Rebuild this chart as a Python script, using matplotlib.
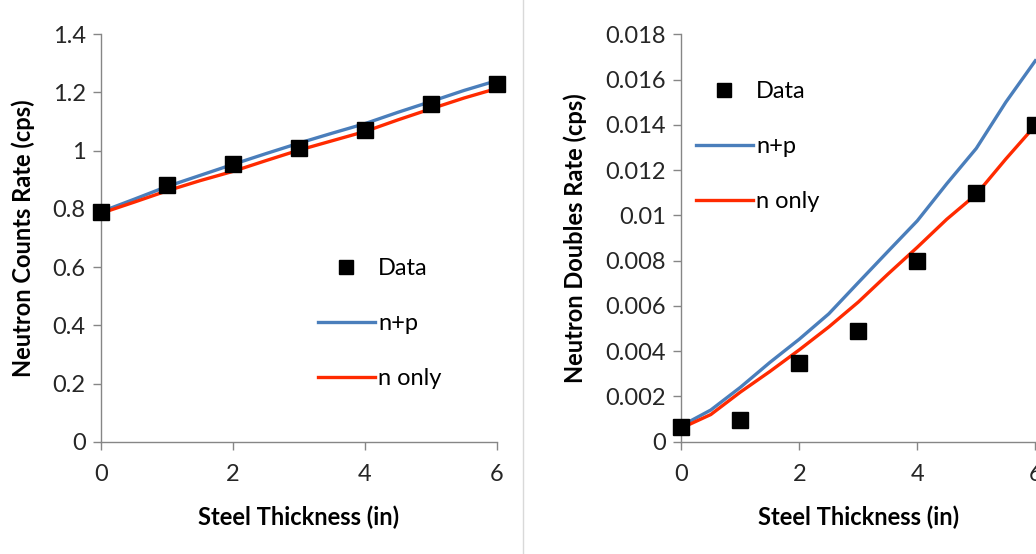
import matplotlib
matplotlib.use("Agg")
import matplotlib.pyplot as plt
from matplotlib.lines import Line2D

# ---- data ----
data_x = [0, 1, 2, 3, 4, 5, 6]
counts_data = [0.79, 0.883, 0.953, 1.01, 1.072, 1.16, 1.23]
model_x = [0, 0.5, 1, 1.5, 2, 2.5, 3, 3.5, 4, 4.5, 5, 5.5, 6]
counts_np = [0.79, 0.833, 0.877, 0.915, 0.953, 0.99, 1.026, 1.06, 1.093, 1.132, 1.169, 1.207, 1.241]
counts_n = [0.785, 0.823, 0.862, 0.897, 0.929, 0.966, 1.002, 1.034, 1.066, 1.106, 1.144, 1.181, 1.214]

doubles_data = [0.00066, 0.00098, 0.00348, 0.00489, 0.0080, 0.0110, 0.0140]
doubles_np = [0.0007, 0.0014, 0.0024, 0.0035, 0.00453, 0.00565, 0.00703, 0.0084, 0.00976, 0.0114, 0.01296, 0.0150, 0.01683]
doubles_n = [0.0006, 0.0012, 0.00219, 0.0031, 0.00406, 0.00507, 0.00617, 0.0074, 0.00859, 0.00983, 0.01093, 0.01249, 0.01397]

left_yticks = [0, 0.2, 0.4, 0.6, 0.8, 1.0, 1.2, 1.4]
left_ylabels = ["0", "0.2", "0.4", "0.6", "0.8", "1", "1.2", "1.4"]
right_yticks = [0, 0.002, 0.004, 0.006, 0.008, 0.010, 0.012, 0.014, 0.016, 0.018]
right_ylabels = ["0", "0.002", "0.004", "0.006", "0.008", "0.01", "0.012", "0.014", "0.016", "0.018"]
xticks = [0, 2, 4, 6]
xlabels = ["0", "2", "4", "6"]

BLUE = "#4A7EBB"
RED = "#FF2A00"
GRAY = "#868686"
FONT = ["Lato", "DejaVu Sans"]

plt.rcParams['font.family'] = FONT

fig = plt.figure(figsize=(10.36, 5.54), dpi=100)

def style(ax, yticks, ylabels, ylim, ylabel, labelpad):
    ax.set_xlim(0, 6)
    ax.set_ylim(*ylim)
    ax.set_xticks(xticks)
    ax.set_xticklabels(xlabels)
    ax.set_yticks(yticks)
    ax.set_yticklabels(ylabels)
    for s in ("top", "right"):
        ax.spines[s].set_visible(False)
    for s in ("left", "bottom"):
        ax.spines[s].set_color(GRAY)
        ax.spines[s].set_linewidth(1.0)
    ax.tick_params(axis="both", direction="out", length=6, width=1.0, color=GRAY,
                   labelsize=17, labelcolor="#262626")
    ax.tick_params(axis="x", pad=10)
    ax.tick_params(axis="y", pad=5)
    ax.set_xlabel("Steel Thickness (in)", fontsize=17, fontweight="bold", labelpad=15)
    ax.set_ylabel(ylabel, fontsize=17, fontweight="bold", labelpad=labelpad)

def legend(ax, x, y):
    handles = [
        Line2D([], [], linestyle="none", marker="s", markersize=10, color="black"),
        Line2D([], [], color=BLUE, linewidth=2.4),
        Line2D([], [], color=RED, linewidth=2.4),
    ]
    ax.legend(handles, ["Data", "n+p", "n only"], loc="upper left",
              bbox_to_anchor=(x, y), bbox_transform=fig.transFigure,
              frameon=False, fontsize=17, handlelength=2.4, handletextpad=0.15,
              labelspacing=1.45, borderaxespad=0, borderpad=0)

# left panel
ax1 = fig.add_axes([101 / 1036, 1 - 441.7 / 554, (497 - 101) / 1036, (441.7 - 34.3) / 554])
ax1.plot(model_x, counts_np, color=BLUE, linewidth=2.4, clip_on=False, zorder=3)
ax1.plot(model_x, counts_n, color=RED, linewidth=2.4, clip_on=False, zorder=3)
ax1.plot(data_x, counts_data, linestyle="none", marker="s", markersize=11.5,
         color="black", clip_on=False, zorder=4)
style(ax1, left_yticks, left_ylabels, (0, 1.4), "Neutron Counts Rate (cps)", 13)
legend(ax1, 318 / 1036, 1 - 258 / 554)

# right panel
ax2 = fig.add_axes([681.3 / 1036, 1 - 441.7 / 554, (1035.3 - 681.3) / 1036, (441.7 - 34.3) / 554])
ax2.plot(model_x, doubles_np, color=BLUE, linewidth=2.4, clip_on=False, zorder=3)
ax2.plot(model_x, doubles_n, color=RED, linewidth=2.4, clip_on=False, zorder=3)
ax2.plot(data_x, doubles_data, linestyle="none", marker="s", markersize=11.5,
         color="black", clip_on=False, zorder=4)
style(ax2, right_yticks, right_ylabels, (0, 0.018), "Neutron Doubles Rate (cps)", 13)
legend(ax2, 696 / 1036, 1 - 81 / 554)

# separator line
fig.add_artist(Line2D([523 / 1036, 523 / 1036], [0, 1], color="#D9D9D9", linewidth=1.0,
                      transform=fig.transFigure))

fig.savefig("out.png", dpi=100)
